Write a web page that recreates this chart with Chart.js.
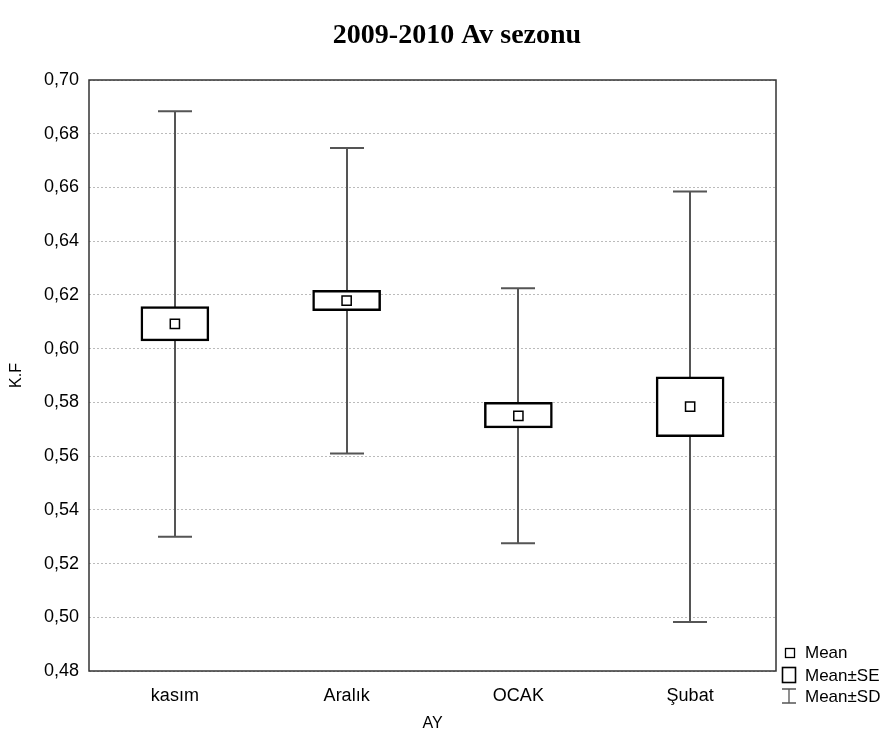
<!DOCTYPE html>
<html>
<head>
<meta charset="utf-8">
<script src="https://cdn.jsdelivr.net/npm/chart.js@4"></script>
<style>
  html, body { margin: 0; padding: 0; background: #fff; }
  #wrap { width: 891px; height: 737px; }
</style>
</head>
<body>
<div id="wrap"><canvas id="chart"></canvas></div>
<script>
const categories = ['kasım', 'Aralık', 'OCAK', 'Şubat'];
const meanValues = [0.6092, 0.6179, 0.5750, 0.5784];
const seLow = [0.6029, 0.6141, 0.5705, 0.5672];
const seHigh = [0.6157, 0.6217, 0.5800, 0.5895];
const sdLow = [0.5300, 0.5610, 0.5276, 0.4982];
const sdHigh = [0.6884, 0.6747, 0.6225, 0.6585];

const titleText = '2009-2010 Av sezonu';
const legendItems = ['Mean', 'Mean±SE', 'Mean±SD'];

// whiskers behind the boxes, frame, title and legend on top
const statPlugin = {
    id: 'statPlugin',
    beforeDatasetsDraw(chart) {
        const ctx = chart.ctx;
        const x = chart.scales.x;
        const y = chart.scales.y;
        ctx.save();
        ctx.strokeStyle = '#555';
        ctx.lineWidth = 2;
        categories.forEach((c, i) => {
            const px = Math.round(x.getPixelForValue(i));
            const top = y.getPixelForValue(sdHigh[i]);
            const bot = y.getPixelForValue(sdLow[i]);
            ctx.beginPath();
            ctx.moveTo(px, top);
            ctx.lineTo(px, bot);
            ctx.moveTo(px - 17, top);
            ctx.lineTo(px + 17, top);
            ctx.moveTo(px - 17, bot);
            ctx.lineTo(px + 17, bot);
            ctx.stroke();
        });
        ctx.restore();
    },
    afterDraw(chart) {
        const ctx = chart.ctx;
        const a = chart.chartArea;
        ctx.save();
        ctx.strokeStyle = '#333';
        ctx.lineWidth = 1.5;
        ctx.strokeRect(a.left, a.top, a.right - a.left, a.bottom - a.top);

        ctx.fillStyle = '#000';
        ctx.font = 'bold 28px "Liberation Serif", "Times New Roman", serif';
        ctx.textAlign = 'center';
        ctx.textBaseline = 'middle';
        ctx.fillText(titleText, 457, 36);

        // legend
        ctx.font = '17px "Liberation Sans", Arial, sans-serif';
        ctx.textAlign = 'left';
        ctx.strokeStyle = '#000';
        ctx.lineWidth = 1.3;
        ctx.strokeRect(785.5, 648.5, 9, 9);
        ctx.fillText(legendItems[0], 805, 653);
        ctx.lineWidth = 1.6;
        ctx.strokeRect(782.5, 667.5, 13, 15);
        ctx.fillText(legendItems[1], 805, 676);
        ctx.strokeStyle = '#555';
        ctx.lineWidth = 1.3;
        ctx.beginPath();
        ctx.moveTo(782, 689);
        ctx.lineTo(796, 689);
        ctx.moveTo(789, 689);
        ctx.lineTo(789, 703);
        ctx.moveTo(782, 703);
        ctx.lineTo(796, 703);
        ctx.stroke();
        ctx.fillText(legendItems[2], 805, 697);
        ctx.restore();
    }
};

new Chart(document.getElementById('chart'), {
    data: {
        labels: categories,
        datasets: [{
            type: 'line',
            label: 'Mean',
            data: meanValues,
            showLine: false,
            pointStyle: 'rect',
            pointRadius: 6.5,
            pointHoverRadius: 6.5,
            pointBackgroundColor: '#fff',
            pointBorderColor: '#000',
            pointBorderWidth: 1.5,
            order: 0
        }, {
            type: 'bar',
            label: 'Mean±SE',
            data: categories.map((c, i) => [seLow[i], seHigh[i]]),
            backgroundColor: '#fff',
            borderColor: '#000',
            borderWidth: 2.5,
            borderSkipped: false,
            barThickness: 68,
            order: 1
        }]
    },
    options: {
        responsive: true,
        maintainAspectRatio: false,
        animation: false,
        layout: { padding: { top: 80, right: 115, left: 0, bottom: 0 } },
        plugins: {
            legend: { display: false },
            title: { display: false },
            tooltip: { enabled: false }
        },
        scales: {
            x: {
                type: 'category',
                offset: true,
                grid: { display: false },
                border: { display: false },
                ticks: { color: '#000', padding: 6, font: { family: '"Liberation Sans", Arial, sans-serif', size: 18 } },
                title: { display: true, text: 'AY', color: '#000', padding: { top: 16 }, font: { family: '"Liberation Sans", Arial, sans-serif', size: 16 } },
                afterFit(scale) { scale.height = 66; }
            },
            y: {
                min: 0.48,
                max: 0.70,
                grid: { color: '#bbb', lineWidth: 1, tickLength: 0, drawTicks: false },
                border: { display: false, dash: [2, 2] },
                ticks: {
                    stepSize: 0.02,
                    color: '#000',
                    padding: 10,
                    font: { family: '"Liberation Sans", Arial, sans-serif', size: 18 },
                    callback: v => v.toFixed(2).replace('.', ',')
                },
                title: { display: true, text: 'K.F', color: '#000', padding: 7, font: { family: '"Liberation Sans", Arial, sans-serif', size: 16 } },
                afterFit(scale) { scale.width = 89; }
            }
        }
    },
    plugins: [statPlugin]
});
</script>
</body>
</html>
